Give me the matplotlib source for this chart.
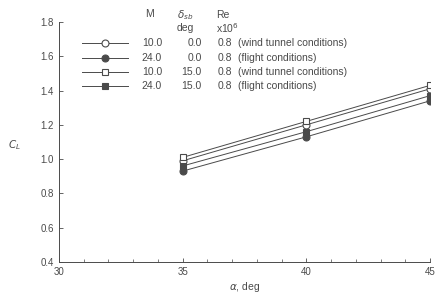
import matplotlib
matplotlib.use("Agg")
import matplotlib.pyplot as plt
from matplotlib.lines import Line2D

# data
alpha = [35, 40, 45]
cl_m10_d0 = [0.99, 1.20, 1.41]
cl_m24_d0 = [0.93, 1.13, 1.34]
cl_m10_d15 = [1.01, 1.22, 1.43]
cl_m24_d15 = [0.96, 1.16, 1.37]

mach = ["10.0", "24.0", "10.0", "24.0"]
delta = ["0.0", "0.0", "15.0", "15.0"]
reyn = ["0.8", "0.8", "0.8", "0.8"]
notes = ["(wind tunnel conditions)", "(flight conditions)",
         "(wind tunnel conditions)", "(flight conditions)"]

plt.rcParams['font.family'] = ['Liberation Sans', 'DejaVu Sans']
ink = '#4a4a4a'

fig = plt.figure(figsize=(4.37, 2.97), dpi=100)
ax = fig.add_axes([0.135, 0.118, 0.849, 0.808])

series = [
    (cl_m10_d0, 'o', 'white'),
    (cl_m24_d0, 'o', ink),
    (cl_m10_d15, 's', 'white'),
    (cl_m24_d15, 's', ink),
]
for vals, mk, fc in series:
    ax.plot(alpha, vals, color=ink, lw=0.7, marker=mk, ms=5,
            mfc=fc, mec=ink, mew=0.8)

ax.set_xlim(30, 45)
ax.set_ylim(0.4, 1.8)
ax.set_xticks([30, 35, 40, 45])
ax.set_xticks(range(30, 46), minor=True)
ax.set_yticks([0.4, 0.6, 0.8, 1.0, 1.2, 1.4, 1.6, 1.8])
ax.set_yticklabels(['0.4', '0.6', '0.8', '1.0', '1.2', '1.4', '1.6', '1.8'])
ax.tick_params(direction='in', labelsize=7, colors=ink, length=3, width=0.6)
ax.tick_params(which='minor', direction='in', length=2, width=0.5, colors=ink)
for side in ['top', 'right']:
    ax.spines[side].set_visible(False)
for side in ['left', 'bottom']:
    ax.spines[side].set_color(ink)
    ax.spines[side].set_linewidth(0.7)

ax.set_xlabel(r'$\alpha$, deg', fontsize=7.5, color=ink, labelpad=2)
ax.set_ylabel('$C_L$', fontsize=7.5, color=ink, rotation=0, labelpad=20)
ax.yaxis.set_label_coords(-0.12, 0.46)

# legend table
row_y = [0.9125, 0.85, 0.792, 0.733]
fs = 7.5
for i, (vals, mk, fc) in enumerate(series):
    y = row_y[i]
    ax.add_line(Line2D([0.062, 0.186], [y, y], transform=ax.transAxes,
                       color=ink, lw=0.7, clip_on=False))
    ax.add_line(Line2D([0.124], [y], transform=ax.transAxes, marker=mk,
                       ms=5, mfc=fc, mec=ink, mew=0.8, clip_on=False))
    ax.text(0.278, y, mach[i], transform=ax.transAxes, ha='right',
            va='center', fontsize=fs, color=ink)
    ax.text(0.385, y, delta[i], transform=ax.transAxes, ha='right',
            va='center', fontsize=fs, color=ink)
    ax.text(0.428, y, reyn[i], transform=ax.transAxes, ha='left',
            va='center', fontsize=fs, color=ink)
    ax.text(0.482, y, notes[i], transform=ax.transAxes, ha='left',
            va='center', fontsize=fs, color=ink)

ax.text(0.245, 1.035, 'M', transform=ax.transAxes, ha='center',
        va='center', fontsize=fs, color=ink)
ax.text(0.34, 1.03, r'$\delta_{sb}$', transform=ax.transAxes, ha='center',
        va='center', fontsize=fs, color=ink)
ax.text(0.34, 0.975, 'deg', transform=ax.transAxes, ha='center',
        va='center', fontsize=fs, color=ink)
ax.text(0.423, 1.03, 'Re', transform=ax.transAxes, ha='left',
        va='center', fontsize=fs, color=ink)
ax.text(0.423, 0.975, r'x10$^6$', transform=ax.transAxes, ha='left',
        va='center', fontsize=fs, color=ink)

fig.savefig('out.png', dpi=100, facecolor='white')
